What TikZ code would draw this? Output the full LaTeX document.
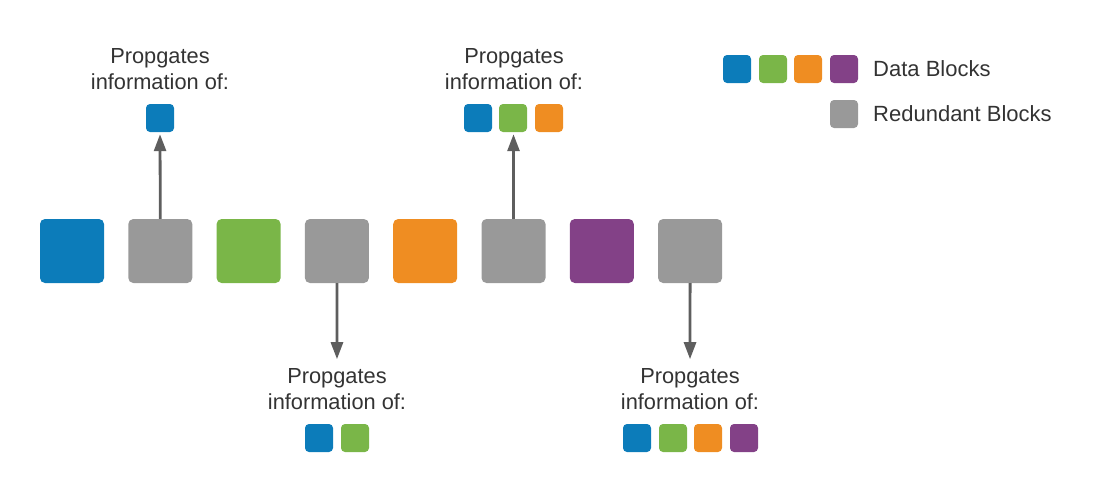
\documentclass[tikz,border=0pt]{standalone}
\usepackage{fontspec}
\setmainfont{Liberation Sans}
\usetikzlibrary{arrows.meta}

\definecolor{dblue}{HTML}{0C7CBA}
\definecolor{dgreen}{HTML}{7AB648}
\definecolor{dorange}{HTML}{EF8D22}
\definecolor{dpurple}{HTML}{834187}
\definecolor{rgray}{HTML}{999999}
\definecolor{arrgray}{HTML}{5E5E5E}
\definecolor{txtgray}{HTML}{333333}

\tikzset{
  bigblock/.style={minimum size=64pt, inner sep=0, rounded corners=5pt},
  smallblock/.style={minimum size=28pt, inner sep=0, rounded corners=4pt},
  proptext/.style={align=center, inner sep=0, text=txtgray, font=\fontsize{21.8}{26}\selectfont},
  legendtext/.style={anchor=west, inner sep=0, text=txtgray, font=\fontsize{22}{26}\selectfont},
  proparrow/.style={draw=arrgray, line width=2.8pt, -{Triangle[length=17pt,width=12pt]}}
}

\begin{document}
\begin{tikzpicture}[x=1pt,y=-1pt]
\useasboundingbox (0,0) rectangle (1099,493);

% Row of blocks
\foreach \i/\c in {1/dblue,2/rgray,3/dgreen,4/rgray,5/dorange,6/rgray,7/dpurple,8/rgray} {
    \pgfmathsetmacro{\x}{72 + (\i-1)*88.3}
    \node[bigblock, fill=\c] (b\i) at (\x,251) {};
}

% Propagation of block 2
\node[proptext] (t2) at (160,69) {Propgates\\information of:};
\node[smallblock, fill=dblue] (s2a) at (160,118) {};
\draw[proparrow, shorten >=2pt] (b2.north) -- (s2a.south);

% Propagation of block 6
\node[proptext] (t6) at (514,69) {Propgates\\information of:};
\foreach \j/\c/\x in {a/dblue/478,b/dgreen/513,c/dorange/549} {
    \node[smallblock, fill=\c] (s6\j) at (\x,118) {};
}
\draw[proparrow, shorten >=2pt] (b6.north) -- (b6.north |- s6b.south);

% Propagation of block 4
\node[proptext] (t4) at (337,389) {Propgates\\information of:};
\draw[proparrow, shorten >=9pt] (b4.south) -- (t4.north);
\foreach \j/\c/\x in {a/dblue/319,b/dgreen/355} {
    \node[smallblock, fill=\c] (s4\j) at (\x,438) {};
}

% Propagation of block 8
\node[proptext] (t8) at (690,389) {Propgates\\information of:};
\draw[proparrow, shorten >=9pt] (b8.south) -- (t8.north);
\foreach \j/\c/\x in {a/dblue/637,b/dgreen/673,c/dorange/708,d/dpurple/744} {
    \node[smallblock, fill=\c] (s8\j) at (\x,438) {};
}

% Legend
\foreach \j/\c/\x in {a/dblue/737,b/dgreen/773,c/dorange/808,d/dpurple/844} {
    \node[smallblock, fill=\c] (l\j) at (\x,69) {};
}
\node[smallblock, fill=rgray] (lr) at (844,114) {};
\node[legendtext] (ld) at (873,69) {Data Blocks};
\node[legendtext] (lrt) at (873,114) {Redundant Blocks};

\end{tikzpicture}
\end{document}
